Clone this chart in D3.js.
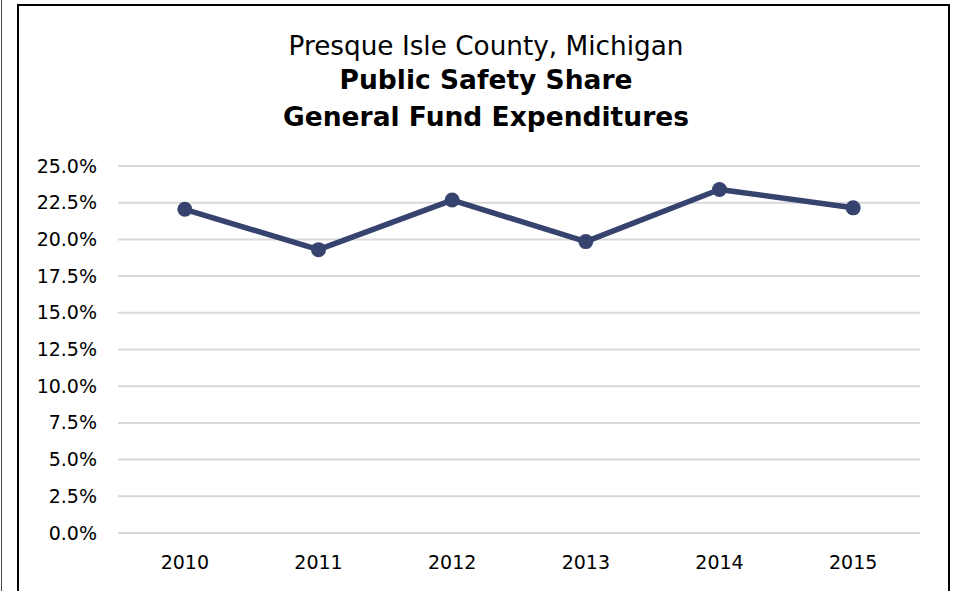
<!DOCTYPE html>
<html>
<head>
<meta charset="utf-8">
<script src="https://cdn.jsdelivr.net/npm/d3@7"></script>
<style>
	body { margin: 0; background: #fff; }
	svg { display: block; font-family: "DejaVu Sans", sans-serif; }
</style>
</head>
<body>
<script>
	var years = ["2010", "2011", "2012", "2013", "2014", "2015"];
	var shares = [22.05, 19.3, 22.68, 19.85, 23.4, 22.15];
	var yTicks = [0, 2.5, 5, 7.5, 10, 12.5, 15, 17.5, 20, 22.5, 25];
	var titleLines = ["Presque Isle County, Michigan", "Public Safety Share", "General Fund Expenditures"];

	var width = 954, height = 591;
	var plot = { left: 118, right: 920, top: 166, bottom: 533 };

	var svg = d3.select("body").append("svg")
		.attr("width", width)
		.attr("height", height);

	// stray page edge line on the left
	svg.append("line")
		.attr("x1", 1.5).attr("x2", 1.5).attr("y1", 0).attr("y2", height)
		.attr("stroke", "#444").attr("stroke-width", 1);

	// chart frame
	svg.append("rect")
		.attr("x", 18).attr("y", 5).attr("width", 931).attr("height", 600)
		.attr("fill", "#fff").attr("stroke", "#000").attr("stroke-width", 2);

	var x = d3.scaleBand().domain(years).range([plot.left, plot.right]);
	var y = d3.scaleLinear().domain([0, 25]).range([plot.bottom, plot.top]);

	var title = svg.append("text")
		.attr("text-anchor", "middle")
		.attr("fill", "#000");
	title.selectAll("tspan").data(titleLines).enter().append("tspan")
		.attr("x", 486)
		.attr("y", function(d, i) { return [55, 89, 126][i]; })
		.attr("font-size", function(d, i) { return i == 0 ? 26.3 : 26.5; })
		.attr("font-weight", function(d, i) { return i == 0 ? "normal" : "bold"; })
		.text(function(d) { return d; });

	// gridlines
	svg.append("g").selectAll("line").data(yTicks).enter().append("line")
		.attr("x1", plot.left).attr("x2", plot.right)
		.attr("y1", function(d) { return y(d); })
		.attr("y2", function(d) { return y(d); })
		.attr("stroke", "#d9d9d9").attr("stroke-width", 2);

	var yAxis = svg.append("g")
		.attr("transform", "translate(" + (plot.left - 21) + ",0)")
		.call(d3.axisLeft(y).tickValues(yTicks).tickSize(0).tickPadding(0)
			.tickFormat(function(d) { return d.toFixed(1) + "%"; }));
	yAxis.select(".domain").remove();
	yAxis.selectAll("text").attr("font-size", 19).attr("fill", "#000")
		.attr("font-family", "DejaVu Sans, sans-serif");

	var xAxis = svg.append("g")
		.attr("transform", "translate(0," + (plot.bottom + 22) + ")")
		.call(d3.axisBottom(x).tickSize(0).tickPadding(0));
	xAxis.select(".domain").remove();
	xAxis.selectAll("text").attr("font-size", 19).attr("fill", "#000")
		.attr("font-family", "DejaVu Sans, sans-serif");

	var cx = function(d, i) { return x(years[i]) + x.bandwidth() / 2; };
	var line = d3.line().x(cx).y(function(d) { return y(d); });

	svg.append("path").datum(shares)
		.attr("d", line)
		.attr("fill", "none")
		.attr("stroke", "#36436e")
		.attr("stroke-width", 5.5)
		.attr("stroke-linejoin", "round");

	svg.append("g").selectAll("circle").data(shares).enter().append("circle")
		.attr("cx", cx)
		.attr("cy", function(d) { return y(d); })
		.attr("r", 7.5)
		.attr("fill", "#36436e");
</script>
</body>
</html>
